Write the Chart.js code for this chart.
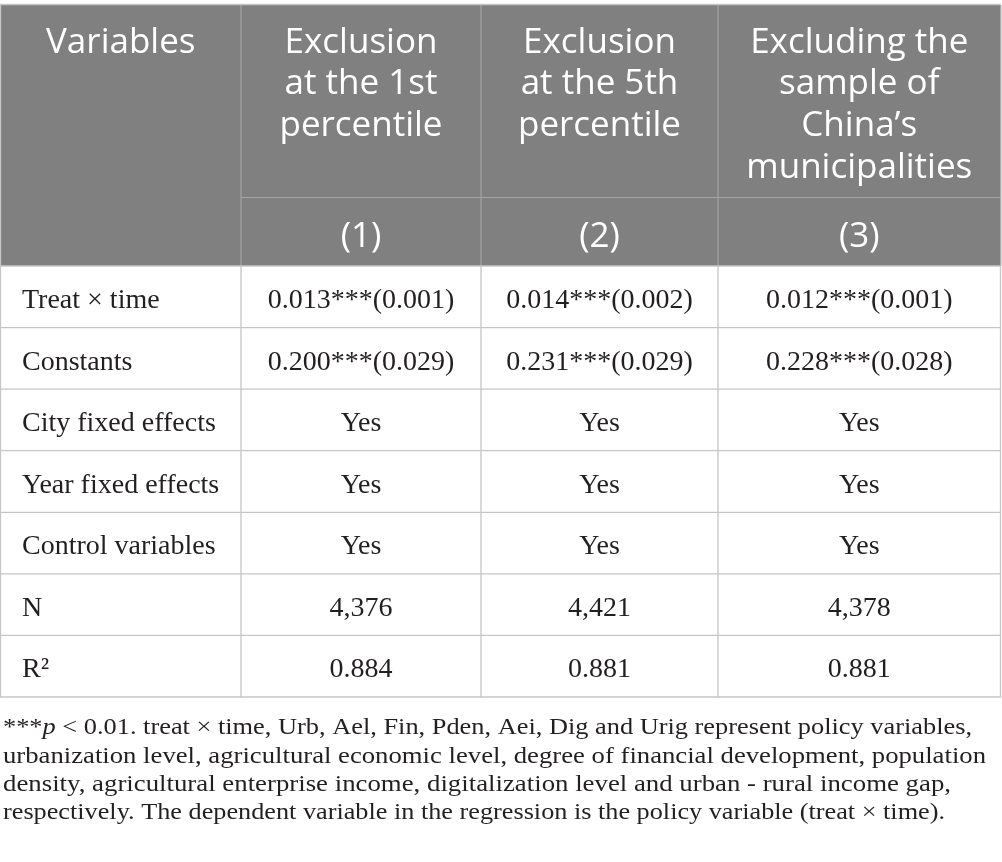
<!DOCTYPE html>
<html>
<head>
<meta charset="utf-8">
<script src="https://cdn.jsdelivr.net/npm/chart.js@4.4.1/dist/chart.umd.min.js"></script>
<style>
html,body{margin:0;padding:0;background:#ffffff;overflow:hidden}
#wrap{width:1002px;height:862px;position:relative}
canvas{display:block}
</style>
</head>
<body>
<div id="wrap"><canvas id="c" width="1002" height="862"></canvas></div>
<script>
// ---------- DATA ----------
const columnHeaders = [
  ["Variables"],
  ["Exclusion", "at the 1st", "percentile"],
  ["Exclusion", "at the 5th", "percentile"],
  ["Excluding the", "sample of", "China’s", "municipalities"]
];
const modelNumbers = ["(1)", "(2)", "(3)"];
const rowLabels = ["Treat × time", "Constants", "City fixed effects", "Year fixed effects", "Control variables", "N", "R²"];
const model1 = ["0.013***(0.001)", "0.200***(0.029)", "Yes", "Yes", "Yes", "4,376", "0.884"];
const model2 = ["0.014***(0.002)", "0.231***(0.029)", "Yes", "Yes", "Yes", "4,421", "0.881"];
const model3 = ["0.012***(0.001)", "0.228***(0.028)", "Yes", "Yes", "Yes", "4,378", "0.881"];
const footnoteLines = [
  [["***", false], ["p", true], [" < 0.01. treat × time, Urb, Ael, Fin, Pden, Aei, Dig and Urig represent policy variables,", false]],
  [["urbanization level, agricultural economic level, degree of financial development, population", false]],
  [["density, agricultural enterprise income, digitalization level and urban - rural income gap,", false]],
  [["respectively. The dependent variable in the regression is the policy variable (treat × time).", false]]
];

// ---------- LAYOUT (table coordinate system, one unit = one px) ----------
const colEdges = [0.5, 241, 481, 718, 1000.5];
const tableTop = 5, headerSplit = 197.5, headerBottom = 266;
const bodyBottom = 697;
const rowH = (bodyBottom - headerBottom) / rowLabels.length;
const headerLineGap = 41.7, headerFirstBaseline = 52.7, modelBaseline = 246.7;
const bodyBaselineOffset = 42;
const labelX = 22;
const footX = 3, footBaselines = [734.3, 762.6, 790.9, 819.2];
const footRight = [972, 986, 951, 945];

const headerBg = "#808080";
const headerInnerLine = "#a3a3a3";
const gridLine = "#c6c6c6";
const headerFont = "35px 'Open Sans', 'Noto Sans', sans-serif";
const bodyFont = "28px 'Liberation Serif', 'DejaVu Serif', serif";
const footSize = 23.5;
const textColor = "#231f20";

function colCenter(i) { return (colEdges[i] + colEdges[i + 1]) / 2; }

// points anchoring each cell's text (positions come from the chart scales)
const cellPoints = [];
rowLabels.forEach((lab, r) => {
  const yb = headerBottom + r * rowH + bodyBaselineOffset;
  cellPoints.push({ x: labelX, y: yb, text: lab, align: "left" });
  [model1, model2, model3].forEach((arr, c) => {
    cellPoints.push({ x: colCenter(c + 1), y: yb, text: arr[r], align: "center" });
  });
});
const headerPoints = [];
columnHeaders.forEach((lines, c) => {
  lines.forEach((t, k) => headerPoints.push({ x: colCenter(c), y: headerFirstBaseline + k * headerLineGap, text: t }));
});
modelNumbers.forEach((t, c) => headerPoints.push({ x: colCenter(c + 1), y: modelBaseline, text: t }));

const tablePlugin = {
  id: "tablePlugin",
  beforeDatasetsDraw(chart) {
    const ctx = chart.ctx, xs = chart.scales.x, ys = chart.scales.y;
    const X = v => xs.getPixelForValue(v), Y = v => ys.getPixelForValue(v);
    ctx.save();
    // header background
    ctx.fillStyle = headerBg;
    ctx.fillRect(X(0), Y(tableTop), X(1001) - X(0), Y(headerBottom) - Y(tableTop));
    // header inner lines
    ctx.strokeStyle = headerInnerLine; ctx.lineWidth = 1.2;
    ctx.beginPath();
    for (let i = 1; i < colEdges.length - 1; i++) { ctx.moveTo(X(colEdges[i]), Y(tableTop)); ctx.lineTo(X(colEdges[i]), Y(headerBottom)); }
    ctx.moveTo(X(colEdges[1]), Y(headerSplit)); ctx.lineTo(X(1001), Y(headerSplit));
    ctx.stroke();
    // outer/body lines
    ctx.strokeStyle = gridLine; ctx.lineWidth = 1.3;
    ctx.beginPath();
    ctx.moveTo(X(0), Y(tableTop - 0.5)); ctx.lineTo(X(1001), Y(tableTop - 0.5));
    ctx.moveTo(X(0.5), Y(tableTop)); ctx.lineTo(X(0.5), Y(headerBottom));
    ctx.moveTo(X(1001), Y(tableTop)); ctx.lineTo(X(1001), Y(headerBottom));
    for (let r = 0; r <= rowLabels.length; r++) {
      const y = headerBottom + r * rowH;
      ctx.moveTo(X(0), Y(y)); ctx.lineTo(X(1001), Y(y));
    }
    for (let i = 0; i < colEdges.length; i++) { ctx.moveTo(X(colEdges[i]), Y(headerBottom)); ctx.lineTo(X(colEdges[i]), Y(bodyBottom)); }
    ctx.stroke();
    ctx.restore();
  },
  afterDatasetsDraw(chart) {
    const ctx = chart.ctx, xs = chart.scales.x, ys = chart.scales.y;
    const X = v => xs.getPixelForValue(v), Y = v => ys.getPixelForValue(v);
    ctx.save();
    ctx.textBaseline = "alphabetic";
    // header text
    const hMeta = chart.getDatasetMeta(0);
    ctx.fillStyle = "#ffffff"; ctx.font = headerFont; ctx.textAlign = "center";
    hMeta.data.forEach((el, i) => ctx.fillText(headerPoints[i].text, el.x, el.y));
    // body text
    const bMeta = chart.getDatasetMeta(1);
    ctx.fillStyle = textColor; ctx.font = bodyFont;
    bMeta.data.forEach((el, i) => {
      const p = cellPoints[i];
      ctx.textAlign = p.align;
      ctx.fillText(p.text, el.x, el.y);
    });
    // footnote
    ctx.textAlign = "left";
    footnoteLines.forEach((segs, li) => {
      let w = 0;
      segs.forEach(([t, it]) => { ctx.font = (it ? "italic " : "") + footSize + "px 'Liberation Serif', serif"; w += ctx.measureText(t).width; });
      const x0 = X(footX), target = X(footRight[li]) - x0;
      const sx = target / w;
      ctx.save();
      ctx.translate(x0, Y(footBaselines[li]));
      ctx.scale(sx, 1);
      let cx = 0;
      segs.forEach(([t, it]) => {
        ctx.font = (it ? "italic " : "") + footSize + "px 'Liberation Serif', serif";
        ctx.fillText(t, cx, 0);
        cx += ctx.measureText(t).width;
      });
      ctx.restore();
    });
    ctx.restore();
  }
};

new Chart(document.getElementById("c"), {
  type: "scatter",
  data: {
    datasets: [
      { label: "header", data: headerPoints.map(p => ({ x: p.x, y: p.y })), pointRadius: 0, pointHoverRadius: 0 },
      { label: "cells", data: cellPoints.map(p => ({ x: p.x, y: p.y })), pointRadius: 0, pointHoverRadius: 0 }
    ]
  },
  options: {
    responsive: false,
    animation: false,
    devicePixelRatio: 1,
    layout: { padding: 0 },
    events: [],
    plugins: { legend: { display: false }, tooltip: { enabled: false }, title: { display: false } },
    scales: {
      x: { type: "linear", min: 0, max: 1002, display: false },
      y: { type: "linear", min: 0, max: 862, reverse: true, display: false }
    }
  },
  plugins: [tablePlugin]
});
</script>
</body>
</html>
